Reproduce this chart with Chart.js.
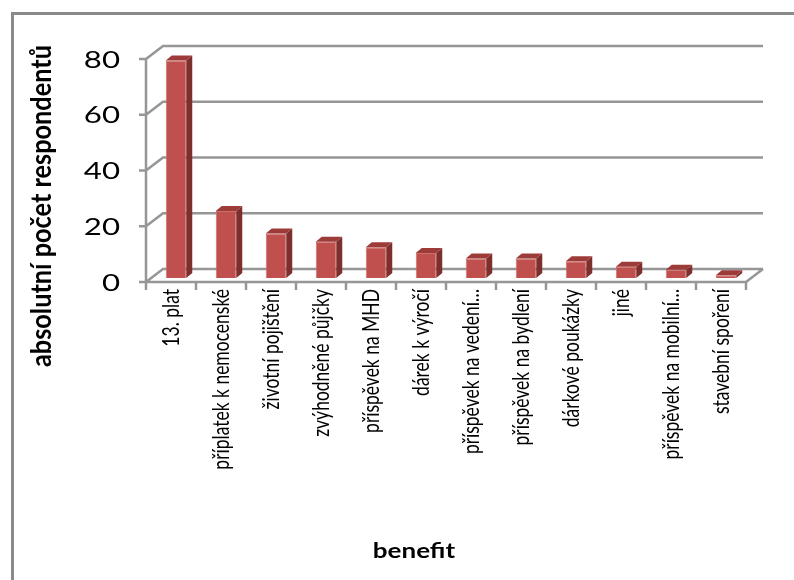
<!DOCTYPE html>
<html lang="cs">
<head>
<meta charset="utf-8">
<title>benefit</title>
<script src="https://cdn.jsdelivr.net/npm/chart.js@4.4.1/dist/chart.umd.min.js"></script>
<style>
  html, body { margin: 0; padding: 0; background: #ffffff; }
  #wrap { position: relative; width: 794px; height: 580px; }
</style>
</head>
<body>
<div id="wrap"><canvas id="chart" width="794" height="580"></canvas></div>
<script>
// Benefits and how many respondents named each one
const categories = [
  '13. plat',
  'příplatek k nemocenské',
  'životní pojištění',
  'zvýhodněné půjčky',
  'příspěvek na MHD',
  'dárek k výročí',
  'příspěvek na vedení…',
  'příspěvek na bydlení',
  'dárkové poukázky',
  'jiné',
  'příspěvek na mobilní…',
  'stavební spoření'
];
const respondents = [78, 24, 16, 13, 11, 9, 7, 7, 6, 4, 3, 1];
const yTicks = [0, 20, 40, 60, 80];

const yTitle = 'absolutní počet respondentů';
const xTitle = 'benefit';

// Pseudo-3D geometry: depth of the whole floor, and where the columns sit in it
const WALL = { dx: 17, dy: -13 };
const COL_FRONT = { dx: 5, dy: -4 };
const COL_DEPTH = { dx: 6, dy: -5 };

const FONT = 'Lato, "Open Sans", "DejaVu Sans", sans-serif';
const GRID = '#969696';

// Text helper: draws a label at (x, y), optionally turned to read upwards;
// sx / sy stretch the lettering horizontally / vertically on the page
function label(ctx, text, x, y, font, align, upright, sx, sy) {
  ctx.save();
  ctx.font = font;
  ctx.fillStyle = '#000000';
  ctx.textAlign = align;
  ctx.textBaseline = 'middle';
  ctx.translate(x, y);
  ctx.scale(sx, sy);
  if (upright) ctx.rotate(-Math.PI / 2);
  ctx.fillText(text, 0, 0);
  ctx.restore();
}

// White page with the frame along the top and left edge
const framePlugin = {
  id: 'frame',
  beforeDraw(chart) {
    const ctx = chart.ctx;
    ctx.save();
    ctx.fillStyle = '#ffffff';
    ctx.fillRect(0, 0, chart.width, chart.height);
    ctx.strokeStyle = '#8a8a8a';
    ctx.lineWidth = 3;
    ctx.beginPath();
    ctx.moveTo(12.5, chart.height);
    ctx.lineTo(12.5, 13.5);
    ctx.lineTo(chart.width, 13.5);
    ctx.stroke();
    ctx.restore();
  }
};

// Back wall, side wall, floor edge, axis lines and tick marks
const wallsPlugin = {
  id: 'walls',
  beforeDatasetsDraw(chart) {
    const ctx = chart.ctx;
    const x = chart.scales.x, y = chart.scales.y;
    const left = x.left, right = x.right, bottom = y.bottom, top = y.top;
    ctx.save();
    ctx.strokeStyle = GRID;
    ctx.lineWidth = 2.5;
    ctx.lineCap = 'butt';
    ctx.beginPath();
    y.ticks.forEach(t => {
      const py = y.getPixelForValue(t.value);
      // side wall diagonal + back wall gridline
      ctx.moveTo(left, py);
      ctx.lineTo(left + WALL.dx, py + WALL.dy);
      ctx.lineTo(right + WALL.dx, py + WALL.dy);
      // tick mark
      ctx.moveTo(left - 7, py);
      ctx.lineTo(left, py);
    });
    // value axis
    ctx.moveTo(left, top);
    ctx.lineTo(left, bottom);
    // category axis and right floor edge
    ctx.moveTo(left - 7, bottom);
    ctx.lineTo(right, bottom);
    ctx.lineTo(right + WALL.dx, bottom + WALL.dy);
    // category tick marks on the boundaries
    for (let i = 0; i <= categories.length; i++) {
      const px = Math.round(x.getPixelForValue(i - 0.5));
      ctx.moveTo(px, bottom);
      ctx.lineTo(px, bottom + 8);
    }
    ctx.stroke();
    ctx.restore();

    // columns stand a little way back on the floor
    ctx.save();
    ctx.translate(COL_FRONT.dx, COL_FRONT.dy);
  },
  afterDatasetsDraw(chart) {
    const ctx = chart.ctx;
    const meta = chart.getDatasetMeta(0);
    meta.data.forEach(el => {
      const { x, y, base, width } = el.getProps(['x', 'y', 'base', 'width'], true);
      const l = x - width / 2, r = x + width / 2;
      // side face
      ctx.fillStyle = '#7e2f2d';
      ctx.beginPath();
      ctx.moveTo(r, y);
      ctx.lineTo(r + COL_DEPTH.dx, y + COL_DEPTH.dy);
      ctx.lineTo(r + COL_DEPTH.dx, base + COL_DEPTH.dy);
      ctx.lineTo(r, base);
      ctx.closePath();
      ctx.fill();
      // top face
      ctx.fillStyle = '#9d3b38';
      ctx.beginPath();
      ctx.moveTo(l, y);
      ctx.lineTo(l + COL_DEPTH.dx, y + COL_DEPTH.dy);
      ctx.lineTo(r + COL_DEPTH.dx, y + COL_DEPTH.dy);
      ctx.lineTo(r, y);
      ctx.closePath();
      ctx.fill();
    });
    ctx.restore();
  }
};

// Tick labels and axis titles
const textPlugin = {
  id: 'texts',
  afterDraw(chart) {
    const ctx = chart.ctx;
    const x = chart.scales.x, y = chart.scales.y;
    y.ticks.forEach(t => {
      label(ctx, String(t.value), x.left - 26, y.getPixelForValue(t.value) + 1,
            '24px ' + FONT, 'right', false, 1.3, 1);
    });
    chart.data.labels.forEach((txt, i) => {
      label(ctx, txt, x.getPixelForTick(i) + 1, y.bottom + 7,
            '19px ' + FONT, 'right', true, 1.2, 0.92);
    });
    label(ctx, xTitle, 414, 552, 'bold 20px ' + FONT, 'center', false, 1.3, 1);
    label(ctx, yTitle, 42, 206, 'bold 23px ' + FONT, 'center', true, 1.25, 1.1);
  }
};

new Chart(document.getElementById('chart'), {
  type: 'bar',
  data: {
    labels: categories,
    datasets: [{
      data: respondents,
      backgroundColor: '#c0504d',
      borderColor: '#cf6f6c',
      borderWidth: 1,
      barPercentage: 0.41,
      categoryPercentage: 1,
      clip: false
    }]
  },
  options: {
    responsive: false,
    animation: false,
    events: [],
    layout: { padding: { top: 59, right: 48, left: 60, bottom: 0 } },
    plugins: { legend: { display: false }, tooltip: { enabled: false }, title: { display: false } },
    scales: {
      x: {
        grid: { display: false, drawTicks: false },
        border: { display: false },
        ticks: { display: false, autoSkip: false },
        afterFit(scale) { scale.height = 580 - 282; }
      },
      y: {
        min: 0,
        max: 80,
        afterBuildTicks(scale) { scale.ticks = yTicks.map(v => ({ value: v })); },
        grid: { display: false, drawTicks: false },
        border: { display: false },
        ticks: { display: false },
        afterFit(scale) { scale.width = 146 - 60; }
      }
    }
  },
  plugins: [framePlugin, wallsPlugin, textPlugin]
});
</script>
</body>
</html>
